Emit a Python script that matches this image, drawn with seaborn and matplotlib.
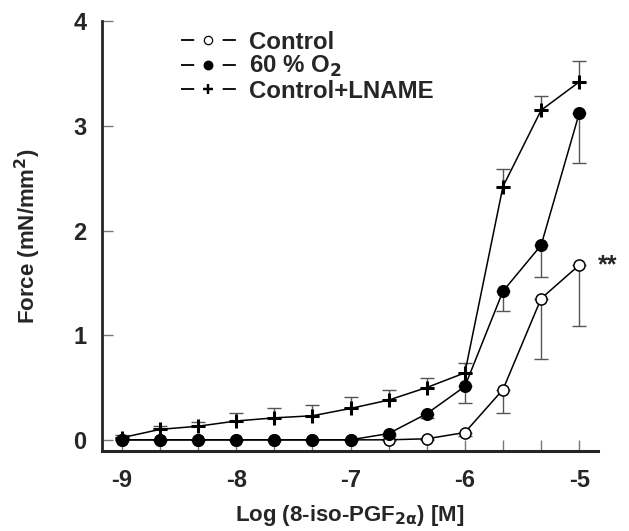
import numpy as np
import pandas as pd
import matplotlib
matplotlib.use("Agg")
import matplotlib.pyplot as plt
import seaborn as sns
from matplotlib.lines import Line2D

log_conc = [-9, -8.667, -8.333, -8, -7.667, -7.333, -7, -6.667, -6.333, -6, -5.667, -5.333, -5]
control = [0, 0, 0, 0, 0, 0, 0, 0.0, 0.01, 0.07, 0.48, 1.35, 1.67]
control_err = [0, 0, 0, 0, 0, 0, 0, 0, 0.01, 0.03, 0.22, 0.58, 0.58]
o2 = [0, 0, 0, 0, 0, 0, 0, 0.06, 0.25, 0.51, 1.42, 1.86, 3.12]
o2_err = [0, 0, 0, 0, 0, 0, 0, 0.02, 0.04, 0.16, 0.19, 0.30, 0.47]
lname = [0.02, 0.10, 0.13, 0.18, 0.21, 0.23, 0.30, 0.38, 0.50, 0.64, 2.42, 3.15, 3.42]
lname_err = [0.03, 0.03, 0.04, 0.08, 0.09, 0.10, 0.11, 0.10, 0.09, 0.09, 0.17, 0.14, 0.20]
series_names = ["Control", "60 % O$_2$", "Control+LNAME"]

sns.set_theme(style="ticks")
plt.rcParams["font.family"] = ["Liberation Sans", "DejaVu Sans"]
plt.rcParams["font.weight"] = "bold"
plt.rcParams["mathtext.default"] = "bf"

df = pd.DataFrame({
    "x": log_conc * 3,
    "y": control + o2 + lname,
    "series": [series_names[0]] * 13 + [series_names[1]] * 13 + [series_names[2]] * 13,
})

fig = plt.figure(figsize=(6.29, 5.31), dpi=100)
ax = fig.add_axes([0.162, 0.151, 0.789, 0.809])

ecol = "#555555"
ax.errorbar(log_conc, control, yerr=[control_err, [0] * 13], fmt="none",
            ecolor=ecol, elinewidth=1, capsize=5, capthick=1, zorder=1)
ax.errorbar(log_conc, o2, yerr=[o2_err, [0] * 13], fmt="none",
            ecolor=ecol, elinewidth=1, capsize=5, capthick=1, zorder=1)
ax.errorbar(log_conc, lname, yerr=[[0] * 13, lname_err], fmt="none",
            ecolor=ecol, elinewidth=1, capsize=5, capthick=1, zorder=1)

styles = {
    series_names[0]: dict(marker="o", mfc="white", mec="black", ms=8, mew=1.1),
    series_names[1]: dict(marker="o", mfc="black", mec="black", ms=8.3, mew=1.1),
    series_names[2]: dict(marker="+", mfc="black", mec="black", ms=9.5, mew=2.2),
}
order = [series_names[2], series_names[0], series_names[1]]
for i, name in enumerate(order):
    sub = df[df["series"] == name]
    st = styles[name]
    sns.lineplot(data=sub, x="x", y="y", ax=ax, color="black", lw=1.1,
                 marker=st["marker"], markerfacecolor=st["mfc"],
                 markeredgecolor=st["mec"], markersize=st["ms"],
                 markeredgewidth=st["mew"], legend=False, zorder=3 + i,
                 estimator=None, sort=False)

ax.set_xlim(-9.175, -4.834)
ax.set_ylim(-0.105, 4)
ax.set_xticks([-9, -8, -7, -6, -5])
ax.set_xticklabels(["-9", "-8", "-7", "-6", "-5"])
ax.set_xticks(log_conc, minor=True)
ax.set_yticks([0, 1, 2, 3, 4])
ax.tick_params(axis="both", which="major", direction="in", labelsize=17,
               length=8, width=1, color="#777777")
ax.tick_params(axis="x", which="major", pad=13)
ax.tick_params(axis="x", which="minor", direction="in", length=8, width=1, color="#777777")
ax.tick_params(axis="y", pad=11)
for lab in ax.get_xticklabels() + ax.get_yticklabels():
    lab.set_fontweight("bold")

for s in ["top", "right"]:
    ax.spines[s].set_visible(False)
ax.spines["left"].set_linewidth(2)
ax.spines["bottom"].set_linewidth(2.2)

ax.set_ylabel("Force (mN/mm$^2$)", fontsize=16, fontweight="bold", labelpad=22)
ax.set_xlabel("Log (8-iso-PGF$_{2\\alpha}$) [M]", fontsize=16, fontweight="bold", labelpad=8)

handles = []
for name in series_names:
    st = styles[name]
    handles.append(Line2D([0], [0], color="black", lw=1.3,
                          linestyle=(0, (9.5, 20.5, 9.5, 100)),
                          marker=st["marker"],
                          markerfacecolor=st["mfc"], markeredgecolor=st["mec"],
                          markersize=st["ms"] * 0.75, markeredgewidth=st["mew"] * 0.8))
plt.rcParams["lines.scale_dashes"] = False
leg = ax.legend(handles, series_names, loc="upper left", bbox_to_anchor=(0.159, 0.978),
                frameon=False, fontsize=17.3, handlelength=2.3, handletextpad=0.55,
                labelspacing=0.02, borderaxespad=0, borderpad=0)
for t in leg.get_texts():
    t.set_fontweight("bold")
for h in leg.legend_handles:
    h.set_dashes([9.5, 20.5, 9.5, 100])

ax.text(-4.84, 1.67, "**", fontsize=18, fontweight="bold", va="center", ha="left")

fig.savefig("out.png", dpi=100)
